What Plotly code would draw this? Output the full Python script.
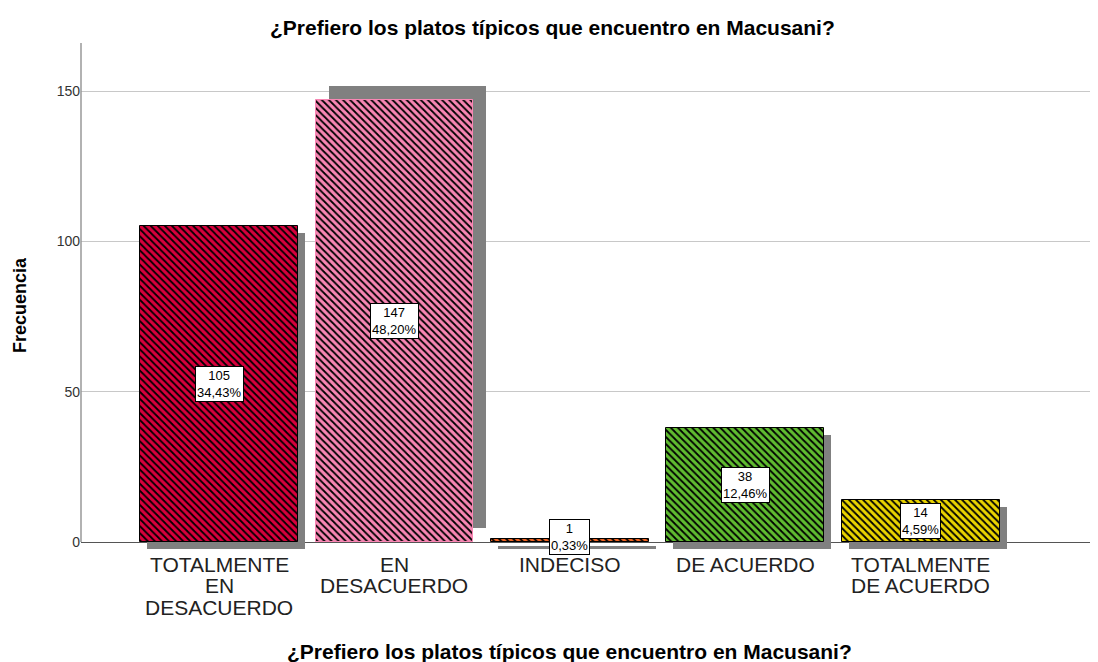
import plotly.graph_objects as go

categories = ["TOTALMENTE<br>EN<br>DESACUERDO", "EN<br>DESACUERDO", "INDECISO", "DE ACUERDO", "TOTALMENTE<br>DE ACUERDO"]
counts = [105, 147, 1, 38, 14]
percents = ["34,43%", "48,20%", "0,33%", "12,46%", "4,59%"]
colors = ["#D8003C", "#F886B3", "#F26522", "#60BC30", "#EAD400"]
edge_colors = ["#000000", "#F886B3", "#000000", "#000000", "#000000"]
# shadow offsets (category units, count units)
shadow_dx = [0.04, 0.074, 0.04, 0.04, 0.04]
shadow_dy = [-2.33, 4.6, -2.33, -2.33, -2.33]

title = "¿Prefiero los platos típicos que encuentro en Macusani?"
xs = list(range(len(categories)))

fig = go.Figure()
fig.add_trace(go.Bar(
    x=[i + d for i, d in zip(xs, shadow_dx)], y=counts, base=shadow_dy,
    width=0.9, opacity=1, marker=dict(color="#808080", line=dict(width=0)),
    hoverinfo="skip", showlegend=False))
for i in xs:
    fig.add_trace(go.Bar(
        x=[i], y=[counts[i]], width=0.9, opacity=1,
        marker=dict(color=colors[i], line=dict(color=edge_colors[i], width=1),
                    pattern=dict(shape="\\", fgcolor="#000000", fgopacity=1,
                                 size=5, solidity=0.36, fillmode="overlay")),
        showlegend=False))

for i, (c, p) in enumerate(zip(counts, percents)):
    fig.add_annotation(x=i, y=max(c / 2, 1.7), text=f"{c}<br>{p}", showarrow=False,
                       font=dict(family="Arial", size=13, color="#000"),
                       bgcolor="white", bordercolor="#000", borderwidth=1, borderpad=1)

# category labels (one annotation per line for tight line spacing)
for i, cat in enumerate(categories):
    for k, line in enumerate(cat.split("<br>")):
        fig.add_annotation(x=i, y=0, xref="x", yref="paper", yanchor="middle",
                           yshift=-(15 + 21.5 * k), text=line, showarrow=False,
                           font=dict(family="Arial", size=21, color="#222"))

fig.add_annotation(x=0.464, y=1, xref="paper", yref="paper", yanchor="middle", yshift=16,
                   text=f"<b>{title}</b>", showarrow=False,
                   font=dict(family="Arial", size=21, color="#000"))
fig.add_annotation(x=0.48, y=0, xref="paper", yref="paper", yanchor="middle", yshift=-102,
                   text=f"<b>{title}</b>", showarrow=False,
                   font=dict(family="Arial", size=21, color="#000"))
fig.add_annotation(x=0, y=0.482, xref="paper", yref="paper", xanchor="center", xshift=-61,
                   text="<b>Frecuencia</b>", textangle=-90, showarrow=False,
                   font=dict(family="Arial", size=18, color="#000"))

# y axis line
fig.add_shape(type="line", xref="paper", yref="y", x0=0, x1=0, y0=0, y1=166,
              line=dict(color="#999999", width=1.5))

fig.update_layout(
    width=1090, height=654, barmode="overlay", bargap=0,
    paper_bgcolor="white", plot_bgcolor="white",
    margin=dict(l=73, r=0, t=35, b=113),
    font=dict(family="Arial"),
    xaxis=dict(range=[-0.787, 5.011], tickmode="array", tickvals=xs, ticktext=[""] * len(xs),
               showgrid=False, zeroline=False, showline=False, ticks="",
               showticklabels=False),
    yaxis=dict(range=[-2.33, 166], tickvals=[0, 50, 100, 150], ticktext=["0", "50", "100", "150"],
               showgrid=True, gridcolor="#C8C8C8", gridwidth=1,
               zeroline=True, zerolinecolor="#555555", zerolinewidth=1,
               showline=False, ticks="", tickfont=dict(family="Arial", size=14, color="#333")),
)
fig.write_html("out.html")
